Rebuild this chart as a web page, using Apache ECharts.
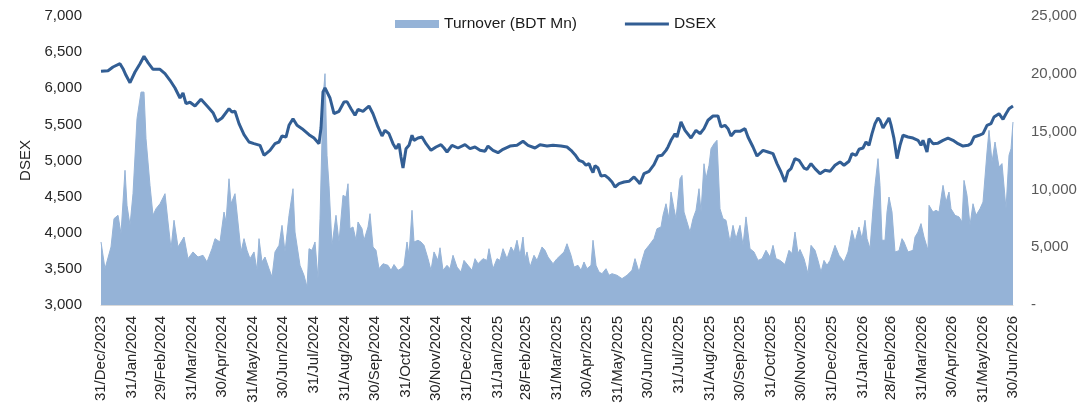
<!DOCTYPE html>
<html>
<head>
<meta charset="utf-8">
<title>DSEX and Turnover</title>
<script src="https://cdn.jsdelivr.net/npm/echarts@6/dist/echarts.min.js"></script>
<style>
  html, body { margin: 0; padding: 0; background: #fff; }
  #chart { width: 1089px; height: 406px; }
</style>
</head>
<body>
<div id="chart"></div>
<script>
// DSEX index (roughly every few trading days)
const dsexDates = [
  '2023-12-31',
  '2024-01-07', '2024-01-12', '2024-01-19', '2024-01-22', '2024-01-25', '2024-01-29',
  '2024-02-03', '2024-02-08', '2024-02-12', '2024-02-16', '2024-02-21', '2024-02-28',
  '2024-03-04', '2024-03-09', '2024-03-14', '2024-03-19', '2024-03-22', '2024-03-25', '2024-03-29',
  '2024-04-03', '2024-04-09', '2024-04-16', '2024-04-21', '2024-04-25', '2024-04-30',
  '2024-05-07', '2024-05-10', '2024-05-13', '2024-05-17', '2024-05-22', '2024-05-27',
  '2024-06-01', '2024-06-07', '2024-06-11', '2024-06-17', '2024-06-22', '2024-06-26', '2024-06-29',
  '2024-07-03', '2024-07-06', '2024-07-10', '2024-07-14', '2024-07-19', '2024-07-26', '2024-07-31',
  '2024-08-02', '2024-08-05', '2024-08-07', '2024-08-09', '2024-08-11', '2024-08-16', '2024-08-20', '2024-08-25', '2024-08-30',
  '2024-09-02', '2024-09-06', '2024-09-10', '2024-09-13', '2024-09-18', '2024-09-21', '2024-09-24', '2024-09-28', '2024-09-30',
  '2024-10-03', '2024-10-07', '2024-10-10', '2024-10-14', '2024-10-18', '2024-10-21', '2024-10-24', '2024-10-26', '2024-10-28', '2024-10-31',
  '2024-11-03', '2024-11-06', '2024-11-08', '2024-11-12', '2024-11-16', '2024-11-20', '2024-11-25', '2024-11-30',
  '2024-12-05', '2024-12-08', '2024-12-11', '2024-12-16', '2024-12-22', '2024-12-29',
  '2025-01-03', '2025-01-08', '2025-01-13', '2025-01-18', '2025-01-21', '2025-01-26', '2025-01-31',
  '2025-02-05', '2025-02-12', '2025-02-19', '2025-02-25',
  '2025-03-02', '2025-03-09', '2025-03-14', '2025-03-21', '2025-03-27',
  '2025-04-04', '2025-04-10', '2025-04-14', '2025-04-18', '2025-04-22', '2025-04-26', '2025-04-29',
  '2025-05-02', '2025-05-04', '2025-05-06', '2025-05-08', '2025-05-11', '2025-05-14', '2025-05-18', '2025-05-22', '2025-05-25', '2025-05-28',
  '2025-06-01', '2025-06-06', '2025-06-11', '2025-06-16', '2025-06-19', '2025-06-22', '2025-06-26',
  '2025-07-01', '2025-07-06', '2025-07-10', '2025-07-14', '2025-07-18', '2025-07-20', '2025-07-23', '2025-07-27', '2025-07-29',
  '2025-08-02', '2025-08-06', '2025-08-12', '2025-08-17', '2025-08-21', '2025-08-25', '2025-08-29',
  '2025-09-03', '2025-09-08', '2025-09-11', '2025-09-15', '2025-09-18', '2025-09-21', '2025-09-25', '2025-09-30',
  '2025-10-05', '2025-10-08', '2025-10-13', '2025-10-17', '2025-10-23', '2025-10-28',
  '2025-11-02', '2025-11-06', '2025-11-10', '2025-11-14', '2025-11-17', '2025-11-20', '2025-11-24', '2025-11-28',
  '2025-12-03', '2025-12-06', '2025-12-10', '2025-12-14', '2025-12-19', '2025-12-24', '2025-12-29',
  '2026-01-03', '2026-01-08', '2026-01-12', '2026-01-17', '2026-01-20', '2026-01-24', '2026-01-27', '2026-01-31',
  '2026-02-03', '2026-02-06', '2026-02-09', '2026-02-12', '2026-02-15', '2026-02-17', '2026-02-20', '2026-02-22', '2026-02-26', '2026-02-28',
  '2026-03-03', '2026-03-06', '2026-03-09', '2026-03-12', '2026-03-17', '2026-03-22', '2026-03-27', '2026-03-30',
  '2026-04-01', '2026-04-05', '2026-04-07', '2026-04-11', '2026-04-16', '2026-04-21', '2026-04-26',
  '2026-05-01', '2026-05-06', '2026-05-11', '2026-05-16', '2026-05-19', '2026-05-22', '2026-05-27', '2026-05-31',
  '2026-06-04', '2026-06-08', '2026-06-11', '2026-06-16', '2026-06-20', '2026-06-23', '2026-06-26', '2026-06-30'
]
const dsexValues = [
  6235,
  6243, 6294, 6340, 6271, 6179, 6077,
  6225, 6340, 6442, 6354, 6262, 6262,
  6202, 6110, 6004, 5865, 5934, 5786, 5806,
  5754, 5847, 5740, 5662, 5540, 5588,
  5717, 5671, 5681, 5510, 5357, 5256,
  5233, 5210, 5072, 5141, 5233, 5256, 5339,
  5325, 5487, 5579, 5487, 5441, 5357, 5311,
  5325, 5233, 5450, 5950, 6005, 5865, 5648, 5681, 5810,
  5815, 5717, 5625, 5708, 5681, 5717, 5754, 5648, 5635,
  5464, 5339, 5418, 5371, 5233, 5164, 5233, 5049, 4896, 5164,
  5210, 5349, 5279, 5311, 5325, 5233, 5141, 5187,
  5219, 5173, 5118, 5210, 5173, 5219,
  5164, 5187, 5141, 5127, 5200, 5141, 5108,
  5155, 5200, 5210, 5266,
  5210, 5173, 5219, 5200, 5210,
  5200, 5187, 5141, 5081, 5003, 4980, 4934,
  4957, 4887, 4831, 4930, 4896, 4786, 4794, 4748, 4703, 4633,
  4680, 4703, 4712, 4772, 4726, 4680, 4818,
  4850, 4942, 5062, 5072, 5140, 5187, 5279, 5371, 5325,
  5533, 5418, 5311, 5418, 5371, 5441, 5557,
  5616, 5616, 5464, 5487, 5441, 5339, 5404, 5404,
  5441, 5325, 5187, 5062, 5141, 5118,
  5095, 4957, 4841, 4703, 4850, 4887, 5026, 5003,
  4896, 4878, 4957, 4887, 4818, 4864, 4850,
  4934, 4980, 4934, 4990, 5095, 5072, 5155, 5173,
  5256, 5210, 5371, 5510, 5588, 5557, 5450, 5464, 5588, 5494,
  5302, 5026, 5210, 5349, 5325, 5311, 5279, 5210,
  5279, 5118, 5302, 5233, 5240, 5279, 5311,
  5279, 5233, 5200, 5210, 5233, 5325, 5349, 5371,
  5487, 5510, 5602, 5648, 5570, 5648, 5717, 5754
]

// Turnover in BDT Mn
const turnoverDates = [
  '2023-12-31',
  '2024-01-04', '2024-01-10', '2024-01-13', '2024-01-17', '2024-01-20', '2024-01-24', '2024-01-26', '2024-01-29',
  '2024-02-01', '2024-02-05', '2024-02-09', '2024-02-12', '2024-02-14', '2024-02-18', '2024-02-21', '2024-02-24', '2024-02-28',
  '2024-03-04', '2024-03-07', '2024-03-10', '2024-03-13', '2024-03-17', '2024-03-23', '2024-03-27',
  '2024-04-01', '2024-04-06', '2024-04-11', '2024-04-15', '2024-04-20', '2024-04-23', '2024-04-25', '2024-04-28',
  '2024-05-02', '2024-05-04', '2024-05-07', '2024-05-09', '2024-05-13', '2024-05-17', '2024-05-19', '2024-05-22', '2024-05-25', '2024-05-28',
  '2024-06-01', '2024-06-04', '2024-06-06', '2024-06-09', '2024-06-12', '2024-06-16', '2024-06-19', '2024-06-22', '2024-06-26', '2024-06-29',
  '2024-07-01', '2024-07-02', '2024-07-06', '2024-07-10', '2024-07-12', '2024-07-17', '2024-07-21', '2024-07-24', '2024-07-26', '2024-07-29',
  '2024-08-01', '2024-08-04', '2024-08-06', '2024-08-09', '2024-08-11', '2024-08-13', '2024-08-15', '2024-08-18', '2024-08-22', '2024-08-25', '2024-08-29',
  '2024-09-01', '2024-09-03', '2024-09-05', '2024-09-08', '2024-09-11', '2024-09-13', '2024-09-17', '2024-09-19', '2024-09-23', '2024-09-25', '2024-09-28',
  '2024-10-01', '2024-10-04', '2024-10-08', '2024-10-13', '2024-10-16', '2024-10-19', '2024-10-23', '2024-10-26', '2024-10-29',
  '2024-11-01', '2024-11-03', '2024-11-06', '2024-11-08', '2024-11-12', '2024-11-15', '2024-11-18', '2024-11-22', '2024-11-25', '2024-11-28',
  '2024-12-02', '2024-12-04', '2024-12-07', '2024-12-11', '2024-12-14', '2024-12-17', '2024-12-21', '2024-12-25', '2024-12-28',
  '2025-01-01', '2025-01-05', '2025-01-08', '2025-01-11', '2025-01-16', '2025-01-20', '2025-01-22', '2025-01-26', '2025-01-30',
  '2025-02-02', '2025-02-05', '2025-02-09', '2025-02-13', '2025-02-16', '2025-02-19', '2025-02-22', '2025-02-25', '2025-02-27',
  '2025-03-01', '2025-03-04', '2025-03-08', '2025-03-11', '2025-03-16', '2025-03-19', '2025-03-22', '2025-03-27', '2025-03-31',
  '2025-04-02', '2025-04-07', '2025-04-10', '2025-04-14', '2025-04-17', '2025-04-21', '2025-04-24', '2025-04-27', '2025-04-30',
  '2025-05-04', '2025-05-06', '2025-05-09', '2025-05-12', '2025-05-15', '2025-05-19', '2025-05-22', '2025-05-25', '2025-05-30',
  '2025-06-04', '2025-06-09', '2025-06-14', '2025-06-17', '2025-06-21', '2025-06-24', '2025-06-27',
  '2025-07-01', '2025-07-06', '2025-07-09', '2025-07-13', '2025-07-15', '2025-07-18', '2025-07-21', '2025-07-23', '2025-07-26', '2025-07-28',
  '2025-08-01', '2025-08-03', '2025-08-05', '2025-08-07', '2025-08-11', '2025-08-14', '2025-08-17', '2025-08-20', '2025-08-22', '2025-08-25', '2025-08-27', '2025-08-30',
  '2025-09-01', '2025-09-04', '2025-09-07', '2025-09-10', '2025-09-13', '2025-09-16', '2025-09-20', '2025-09-23', '2025-09-26', '2025-09-30',
  '2025-10-03', '2025-10-06', '2025-10-10', '2025-10-14', '2025-10-18', '2025-10-22', '2025-10-26', '2025-10-30',
  '2025-11-02', '2025-11-05', '2025-11-09', '2025-11-14', '2025-11-18', '2025-11-21', '2025-11-24', '2025-11-27', '2025-11-29',
  '2025-12-03', '2025-12-07', '2025-12-10', '2025-12-14', '2025-12-17', '2025-12-20', '2025-12-23', '2025-12-26', '2025-12-29',
  '2026-01-03', '2026-01-07', '2026-01-12', '2026-01-16', '2026-01-20', '2026-01-23', '2026-01-27', '2026-01-30',
  '2026-02-02', '2026-02-04', '2026-02-07', '2026-02-10', '2026-02-12', '2026-02-15', '2026-02-17', '2026-02-19', '2026-02-22', '2026-02-24', '2026-02-26',
  '2026-03-01', '2026-03-04', '2026-03-08', '2026-03-11', '2026-03-13', '2026-03-17', '2026-03-22', '2026-03-24', '2026-03-27', '2026-03-30',
  '2026-04-02', '2026-04-06', '2026-04-07', '2026-04-11', '2026-04-14', '2026-04-17', '2026-04-21', '2026-04-24', '2026-04-27', '2026-04-29',
  '2026-05-03', '2026-05-07', '2026-05-10', '2026-05-12', '2026-05-15', '2026-05-18', '2026-05-21', '2026-05-24', '2026-05-28', '2026-05-31',
  '2026-06-04', '2026-06-06', '2026-06-09', '2026-06-12', '2026-06-16', '2026-06-19', '2026-06-23', '2026-06-26', '2026-06-28', '2026-06-30'
]
const turnoverValues = [
  5450,
  3140, 5020, 7470, 7760, 6170, 11650, 8620, 6890,
  9630, 16120, 18420, 18420, 14390, 10350, 7760, 8330, 8760,
  9630, 7180, 4870, 7330, 5020, 5880, 4010,
  4590, 4150, 4300, 3720, 4870, 5740, 5880, 5450,
  8040, 7180, 10920, 8760, 9630, 6310, 4590, 5740, 4730, 4010,
  4590, 3000, 5740, 3720, 4150, 3140, 2420, 4590, 5160, 6890,
  7040, 4590, 7760, 10060, 6310, 3430, 2570, 1560, 4870, 4730,
  5450, 2280, 7470, 17850, 20010, 12950, 10350, 5160, 7760, 5450, 9490,
  9340, 10490, 6600, 6750, 5600, 7180, 6600, 5600, 6750, 7900, 5020,
  4730, 3140, 3570, 3430, 3000, 3500, 3000, 3140, 3430,
  5450, 4300, 8190, 5450, 5600, 5450, 5160, 4010, 3000, 4590,
  3860, 4950, 3000, 3430, 3140, 4300, 3280, 2850, 3860,
  3430, 3000, 4010, 3570, 4010, 3860, 4870, 3140, 4010,
  3860, 4870, 4010, 5020, 4590, 5600, 4300, 5880, 4010,
  4590, 3280, 4300, 3860, 5020, 4730, 4150, 3570, 4010,
  3860, 4590, 5300, 4300, 3280, 3430, 3000, 3720, 3140,
  3430, 5600, 3430, 2850, 2710, 3140, 2570, 2710, 2570,
  2280, 2570, 3000, 4010, 2850, 3860, 4730,
  5160, 5740, 6600, 6750, 7760, 8760, 7470, 9770, 8330, 7470,
  10920, 11210, 8040, 7470, 6310, 7470, 8190, 10060, 8040, 12220, 10920, 12080,
  13520, 13950, 14250, 8330, 7470, 7330, 5450, 6890, 5740, 6890,
  5160, 7620, 4870, 4590, 3860, 4010, 4730, 4150,
  5160, 4010, 3860, 3500, 4730, 4450, 6310, 4450, 4800,
  4010, 2710, 5160, 4730, 3860, 2850, 3860, 3430, 3860,
  5160, 4300, 3720, 4590, 6460, 5450, 6750, 5740,
  7330, 5740, 4870, 8330, 10350, 12660, 10350, 5600, 5600, 8040, 9340,
  8040, 4590, 4700, 5740, 5450, 4590, 4730, 5880, 6310, 7040,
  5880, 4730, 8620, 8040, 8190, 8040, 10350, 8910, 9770, 8330,
  7760, 7620, 7180, 10780, 9490, 6890, 8760, 7760, 8330, 8910,
  13230, 15110, 12370, 14100, 11940, 12230, 8330, 12950, 13520, 15830
]

// month-end tick labels on the date axis
const tickLabels = [
  '31/Dec/2023', '31/Jan/2024', '29/Feb/2024', '31/Mar/2024', '30/Apr/2024', '31/May/2024',
  '30/Jun/2024', '31/Jul/2024', '31/Aug/2024', '30/Sep/2024', '31/Oct/2024', '30/Nov/2024',
  '31/Dec/2024', '31/Jan/2025', '28/Feb/2025', '31/Mar/2025', '30/Apr/2025', '31/May/2025',
  '30/Jun/2025', '31/Jul/2025', '31/Aug/2025', '30/Sep/2025', '31/Oct/2025', '30/Nov/2025',
  '31/Dec/2025', '31/Jan/2026', '28/Feb/2026', '31/Mar/2026', '30/Apr/2026', '31/May/2026',
  '30/Jun/2026'
]

const monthNames = ['Jan', 'Feb', 'Mar', 'Apr', 'May', 'Jun', 'Jul', 'Aug', 'Sep', 'Oct', 'Nov', 'Dec']
const DAY_MS = 24 * 3600 * 1000
const startUtc = Date.UTC(2023, 11, 31)

// x axis is a plain value axis counted in days from 31/Dec/2023
function labelToDay(label) {
  const [day, mon, year] = label.split('/')
  return Math.round((Date.UTC(+year, monthNames.indexOf(mon), +day) - startUtc) / DAY_MS)
}

function isoToDay(iso) {
  const [year, month, day] = iso.split('-').map(Number)
  return Math.round((Date.UTC(year, month - 1, day) - startUtc) / DAY_MS)
}

const tickDays = tickLabels.map(labelToDay)
const labelByDay = {}
tickDays.forEach((d, i) => { labelByDay[d] = tickLabels[i] })

const fontFamily = '"Liberation Sans", Arial, sans-serif'
const areaColor = '#95b3d7'
const lineColor = '#325e94'

const chart = echarts.init(document.getElementById('chart'))
chart.setOption({
  animation: false,
  backgroundColor: '#ffffff',
  textStyle: { fontFamily: fontFamily },
  grid: { left: 101, right: 76, top: 16, bottom: 101 },
  legend: {
    left: 390,
    top: 11,
    itemWidth: 44,
    itemHeight: 8,
    itemGap: 48,
    textStyle: { fontSize: 15.5, color: '#1a1a1a', fontFamily: fontFamily },
    data: [
      { name: 'Turnover (BDT Mn)', icon: 'rect' },
      { name: 'DSEX', icon: 'path://M0,0H44V3H0Z' }
    ]
  },
  xAxis: {
    type: 'value',
    min: tickDays[0],
    max: tickDays[tickDays.length - 1],
    axisLine: { show: true, onZero: false, lineStyle: { color: '#d9d9d9', width: 1 } },
    axisTick: { show: false },
    splitLine: { show: false },
    axisLabel: {
      customValues: tickDays,
      rotate: 90,
      margin: 11,
      fontSize: 15,
      color: '#262626',
      hideOverlap: false,
      showMinLabel: true,
      showMaxLabel: true,
      formatter: (value) => labelByDay[Math.round(value)] || ''
    }
  },
  yAxis: [
    {
      type: 'value',
      name: 'DSEX',
      nameLocation: 'middle',
      nameGap: 67,
      nameTextStyle: { fontSize: 15, color: '#262626', fontFamily: fontFamily },
      min: 3000,
      max: 7000,
      interval: 500,
      axisLine: { show: false },
      axisTick: { show: false },
      splitLine: { show: false },
      axisLabel: {
        margin: 19,
        fontSize: 15,
        color: '#262626',
        formatter: (v) => v.toLocaleString('en-US')
      }
    },
    {
      type: 'value',
      position: 'right',
      min: 0,
      max: 25000,
      interval: 5000,
      axisLine: { show: false },
      axisTick: { show: false },
      splitLine: { show: false },
      axisLabel: {
        margin: 18,
        fontSize: 15,
        color: '#595959',
        formatter: (v) => (v === 0 ? '-' : v.toLocaleString('en-US'))
      }
    }
  ],
  series: [
    {
      name: 'Turnover (BDT Mn)',
      type: 'line',
      yAxisIndex: 1,
      symbol: 'none',
      data: turnoverDates.map((d, i) => [isoToDay(d), turnoverValues[i]]),
      itemStyle: { color: areaColor },
      lineStyle: { color: areaColor, width: 1 },
      areaStyle: { color: areaColor, opacity: 1 }
    },
    {
      name: 'DSEX',
      type: 'line',
      yAxisIndex: 0,
      symbol: 'none',
      data: dsexDates.map((d, i) => [isoToDay(d), dsexValues[i]]),
      itemStyle: { color: lineColor },
      lineStyle: { color: lineColor, width: 3 }
    }
  ]
})
</script>
</body>
</html>
